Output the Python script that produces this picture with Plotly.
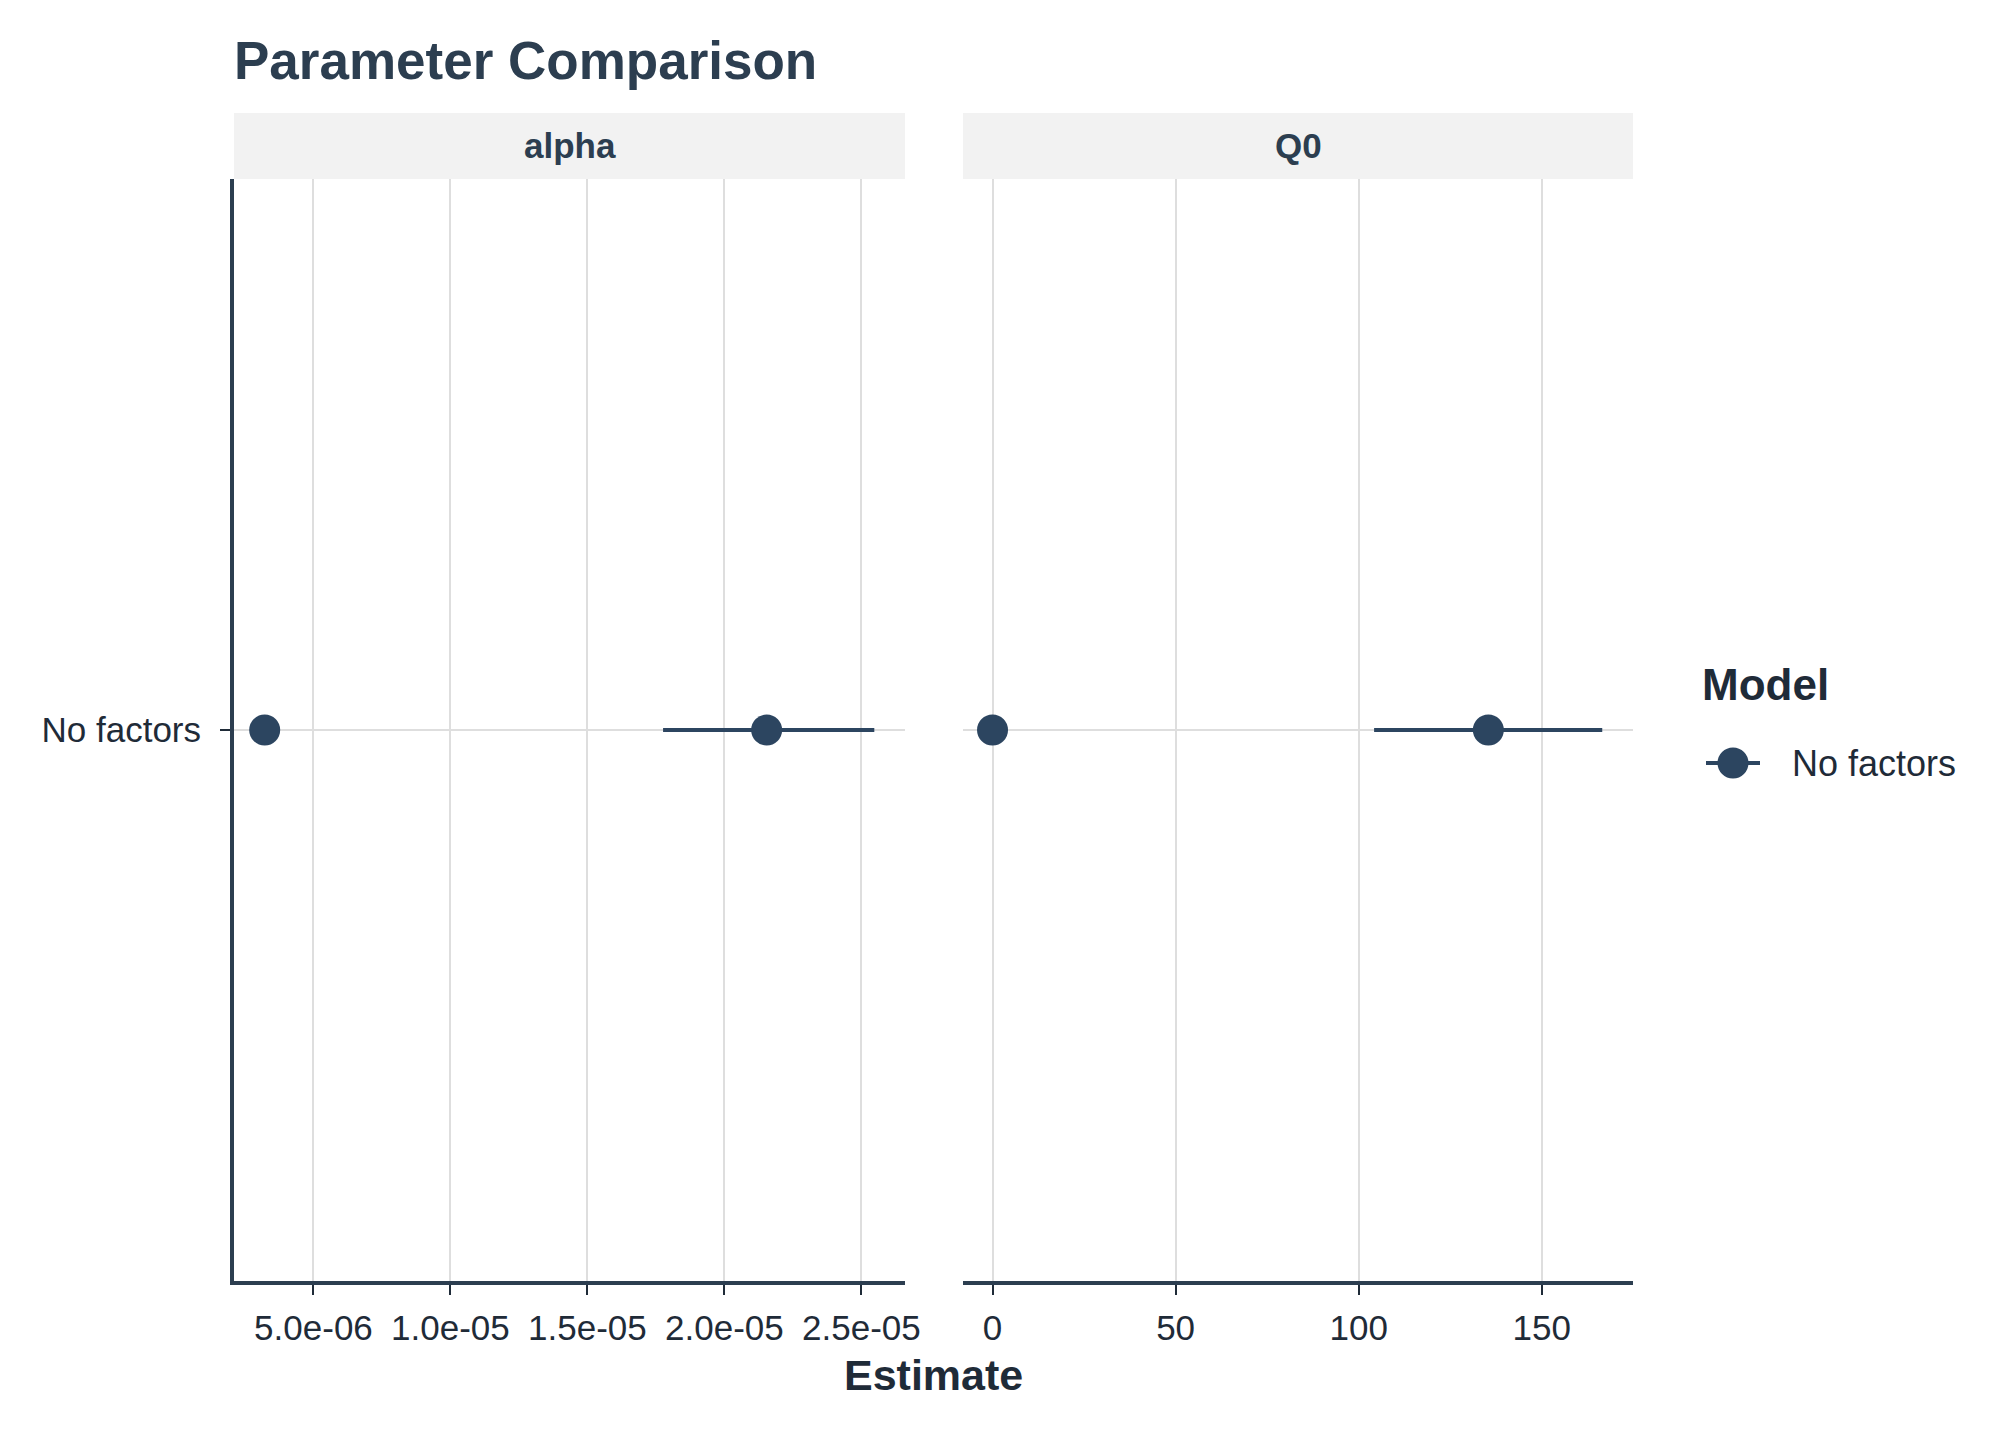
import plotly.graph_objects as go

# data
model = ["No factors", "No factors"]

alpha_est = [3.22e-6, 2.154e-5]
alpha_lo = [None, 1.776e-5]
alpha_hi = [None, 2.547e-5]

q0_est = [0.0, 135.4]
q0_lo = [None, 104.2]
q0_hi = [None, 166.5]

alpha_ticks = [5e-6, 1e-5, 1.5e-5, 2e-5, 2.5e-5]
alpha_tick_text = ["5.0e-06", "1.0e-05", "1.5e-05", "2.0e-05", "2.5e-05"]
q0_ticks = [0, 50, 100, 150]

panels = ["alpha", "Q0"]
legend_title = "Model"
legend_label = "No factors"

MARK = "#2c4560"
INK = "#1f2b38"
TITLE = "#2c3e50"
GRID = "#dedede"
FONT = "Liberation Sans"

# plot area in pixels
L, R, T, B = 226, 1625, 171, 1273
PW, PH = R - L, B - T


def px_x(p):
    return (p - L) / PW


def px_y(p):
    return (B - p) / PH


def errs(est, lo, hi):
    plus = [(h - e) if h is not None else 0 for e, h in zip(est, hi)]
    minus = [(e - l) if l is not None else 0 for e, l in zip(est, lo)]
    return plus, minus


fig = go.Figure()

for est, lo, hi, xa, ya in [(alpha_est, alpha_lo, alpha_hi, "x", "y"),
                            (q0_est, q0_lo, q0_hi, "x2", "y2")]:
    plus, minus = errs(est, lo, hi)
    fig.add_trace(go.Scatter(
        x=est, y=model, xaxis=xa, yaxis=ya,
        mode="markers", name=legend_label,
        marker=dict(size=31, color=MARK),
        error_x=dict(type="data", array=plus, arrayminus=minus,
                     symmetric=False, color=MARK, thickness=4, width=0),
        showlegend=False, cliponaxis=False
    ))

axis_common = dict(
    showgrid=True, gridcolor=GRID, gridwidth=2, zeroline=False,
    showline=True, linecolor=TITLE, linewidth=4,
    ticks="outside", ticklen=10, tickwidth=2, tickcolor=INK,
    tickfont=dict(family=FONT, size=35, color=INK),
    ticklabelstandoff=3,
)

d1 = [0, px_x(897)]
d2 = [px_x(955), 1]

fig.update_layout(
    width=2016, height=1440,
    margin=dict(l=L, r=2016 - R, t=T, b=1440 - B),
    plot_bgcolor="white", paper_bgcolor="white",
    font=dict(family=FONT, color=INK),
    showlegend=False,
    title=dict(text="<b>Parameter Comparison</b>", x=0, xref="paper",
               xanchor="left", y=1 - 52 / 1440, yanchor="middle",
               font=dict(family=FONT, size=53, color=TITLE)),
    xaxis=dict(domain=d1, range=[2.1e-6, 2.659e-5],
               tickvals=alpha_ticks, ticktext=alpha_tick_text, **axis_common),
    xaxis2=dict(domain=d2, range=[-8.06, 174.9],
                tickvals=q0_ticks, **axis_common),
    yaxis=dict(type="category", range=[-1, 1], showgrid=True,
               gridcolor=GRID, gridwidth=2, zeroline=False,
               showline=True, linecolor=TITLE, linewidth=4,
               ticks="outside", ticklen=10, tickwidth=2, tickcolor=INK,
               tickfont=dict(family=FONT, size=35, color=INK),
               ticklabelstandoff=12),
    yaxis2=dict(type="category", range=[-1, 1], anchor="x2",
                matches="y", showgrid=True, gridcolor=GRID, gridwidth=2,
                zeroline=False, showline=False, showticklabels=False),
)

# facet strips
strip_top = px_y(105)
for name, dom in [(panels[0], d1), (panels[1], d2)]:
    fig.add_shape(type="rect", xref="paper", yref="paper",
                  x0=dom[0], x1=dom[1], y0=1, y1=strip_top,
                  fillcolor="#f2f2f2", line=dict(width=0), layer="below")
    fig.add_annotation(text="<b>%s</b>" % name, xref="paper", yref="paper",
                       x=(dom[0] + dom[1]) / 2, y=(1 + strip_top) / 2,
                       showarrow=False, xanchor="center", yanchor="middle",
                       font=dict(family=FONT, size=35, color=TITLE))

fig.add_annotation(text="<b>Estimate</b>", xref="paper", yref="paper",
                   x=0.5, y=px_y(1367), showarrow=False,
                   xanchor="center", yanchor="middle",
                   font=dict(family=FONT, size=43, color=INK))

# legend drawn by hand so the key keeps the full point size
key_x, key_y = px_x(1725), px_y(755)
fig.add_annotation(text="<b>%s</b>" % legend_title, xref="paper",
                   yref="paper", x=px_x(1692), y=px_y(676), showarrow=False,
                   xanchor="left", yanchor="middle",
                   font=dict(family=FONT, size=44, color=INK))
fig.add_shape(type="line", xref="paper", yref="paper",
              xsizemode="pixel", xanchor=key_x, x0=-27, x1=27,
              y0=key_y, y1=key_y, line=dict(color=MARK, width=4))
fig.add_shape(type="circle", xref="paper", yref="paper",
              xsizemode="pixel", ysizemode="pixel",
              xanchor=key_x, yanchor=key_y, x0=-15.5, x1=15.5,
              y0=-15.5, y1=15.5, fillcolor=MARK, line=dict(width=0))
fig.add_annotation(text=legend_label, xref="paper", yref="paper",
                   x=px_x(1782), y=key_y, showarrow=False,
                   xanchor="left", yanchor="middle",
                   font=dict(family=FONT, size=36, color=INK))

fig.write_html("out.html")
